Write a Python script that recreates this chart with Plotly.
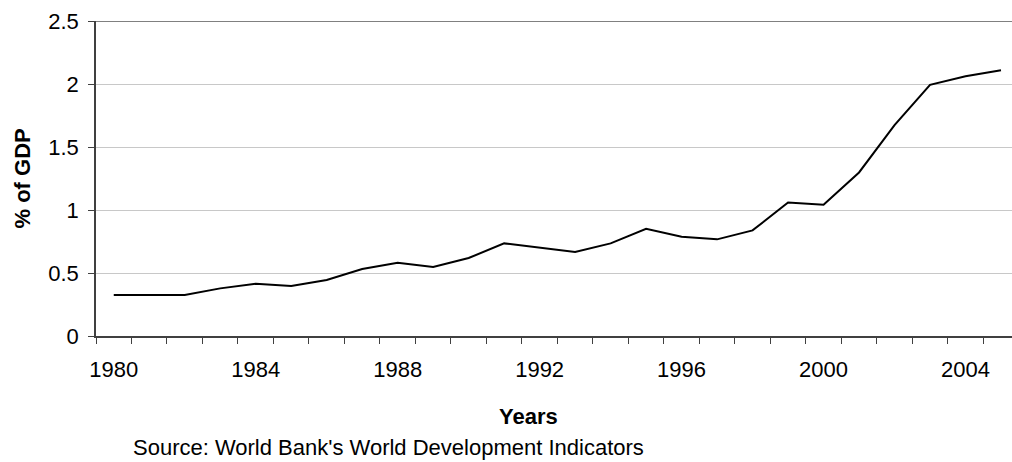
import plotly.graph_objects as go

years = list(range(1980, 2006))
values = [0.325, 0.325, 0.325, 0.378, 0.415, 0.397, 0.444, 0.531, 0.581, 0.547,
          0.619, 0.735, 0.700, 0.666, 0.735, 0.851, 0.788, 0.767, 0.838, 1.060,
          1.041, 1.298, 1.673, 1.993, 2.062, 2.109]
x_tick_idx = [0, 4, 8, 12, 16, 20, 24]
x_tick_labels = ["1980", "1984", "1988", "1992", "1996", "2000", "2004"]
y_ticks = [0, 0.5, 1, 1.5, 2, 2.5]
y_tick_labels = ["0", "0.5", "1", "1.5", "2", "2.5"]

W, H = 1012, 462
L, R, T, B = 96, 0, 21, 126
pw, ph = W - L - R, H - T - B

def px(xp):
    return (xp - L) / pw

def py(yp):
    return (H - B - yp) / ph

idx = list(range(len(years)))
FONT = "Liberation Sans, Arial, sans-serif"
AX = "#404040"

fig = go.Figure()
fig.add_trace(go.Scatter(x=idx, y=values, mode="lines",
                         line=dict(color="black", width=2), showlegend=False,
                         hoverinfo="skip"))

fig.update_layout(
    width=W, height=H,
    margin=dict(l=L, r=R, t=T, b=B),
    paper_bgcolor="white", plot_bgcolor="white",
    font=dict(family=FONT, size=22, color="black"),
    xaxis=dict(range=[-0.5, 25.31], tickmode="array", tickvals=x_tick_idx,
               ticktext=x_tick_labels, ticks="", showgrid=False, zeroline=False,
               showline=True, linecolor=AX, linewidth=1.5,
               ticklabelstandoff=13,
               minor=dict(tickmode="linear", tick0=-0.5, dtick=1, ticks="outside",
                          ticklen=6, tickcolor=AX, tickwidth=1, showgrid=False)),
    yaxis=dict(range=[0, 2.5], tickmode="array", tickvals=y_ticks,
               ticktext=y_tick_labels, ticks="outside", ticklen=6,
               tickcolor=AX, showgrid=True, gridcolor="#c8c8c8", gridwidth=1,
               zeroline=False, showline=True, linecolor=AX, linewidth=1.5,
               ticklabelstandoff=5),
    shapes=[dict(type="line", xref="paper", yref="y", x0=0, x1=1, y0=2.5, y1=2.5,
                 line=dict(color="#808080", width=2))],
    annotations=[
        dict(text="<b>% of GDP</b>", xref="paper", yref="paper", x=px(22), y=0.5,
             textangle=-90, showarrow=False, font=dict(size=22),
             xanchor="center", yanchor="middle"),
        dict(text="<b>Years</b>", xref="paper", yref="paper", x=px(528), y=py(416),
             showarrow=False, font=dict(size=22), xanchor="center", yanchor="middle"),
        dict(text="Source: World Bank's World Development Indicators", xref="paper",
             yref="paper", x=px(131), y=py(447), showarrow=False,
             font=dict(size=22), xanchor="left", yanchor="middle"),
    ],
)

fig.write_html("out.html", config={"displayModeBar": False},
               post_script="document.body.style.margin='0px';")
